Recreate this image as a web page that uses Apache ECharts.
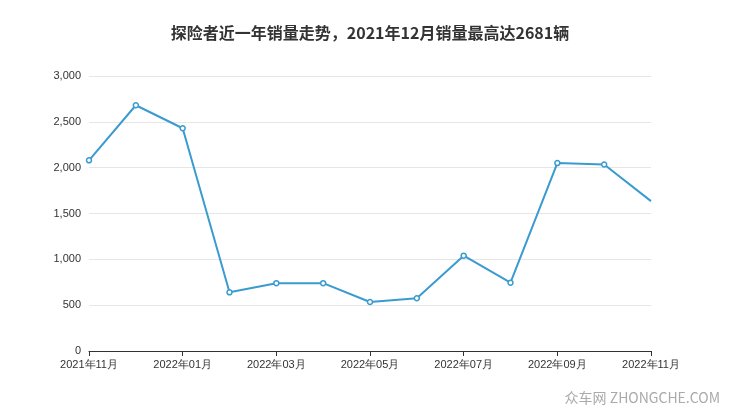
<!DOCTYPE html>
<html><head><meta charset="utf-8">
<script src="https://cdn.jsdelivr.net/npm/echarts@6/dist/echarts.min.js"></script>
<style>html,body{margin:0;padding:0;background:#fff}#c{width:740px;height:417px}</style>
</head><body><div id="c"></div>
<script>
var categories=['2021年11月','2021年12月','2022年01月','2022年02月','2022年03月','2022年04月','2022年05月','2022年06月','2022年07月','2022年08月','2022年09月','2022年10月','2022年11月'];
var sales=[2080,2681,2430,640,740,740,535,575,1040,745,2050,2035,1635];
var chart=echarts.init(document.getElementById('c'));
chart.setOption({
  animation:false,
  title:{text:'探险者近一年销量走势，2021年12月销量最高达2681辆',left:'center',top:20,textStyle:{fontSize:16,fontWeight:'bold',color:'#333',fontFamily:'Noto Sans CJK SC'}},
  graphic:[{type:'text',right:20,bottom:12,style:{text:'众车网 ZHONGCHE.COM',fill:'#aaa',font:'14px "Noto Sans CJK SC"'}}],
  grid:{left:89,right:89,top:76,bottom:66},
  xAxis:{type:'category',boundaryGap:false,data:categories,
    axisLine:{lineStyle:{color:'#333'}},axisTick:{alignWithLabel:true,interval:1,lineStyle:{color:'#333'}},
    axisLabel:{interval:1,color:'#333',fontSize:11,showMaxLabel:true}},
  yAxis:{type:'value',min:0,max:3000,interval:500,axisLine:{show:false},axisTick:{show:false},
    axisLabel:{color:'#333',fontSize:11},splitLine:{lineStyle:{color:'#e6e6e6'}}},
  series:[{type:'line',data:sales.map(function(v,i){return i===sales.length-1?{value:v,symbolSize:0}:v;}),
    symbol:'circle',symbolSize:5,itemStyle:{color:'#fff',borderColor:'#3a9bd0',borderWidth:1.5},
    lineStyle:{color:'#3a9bd0',width:2}}]
});
</script></body></html>
